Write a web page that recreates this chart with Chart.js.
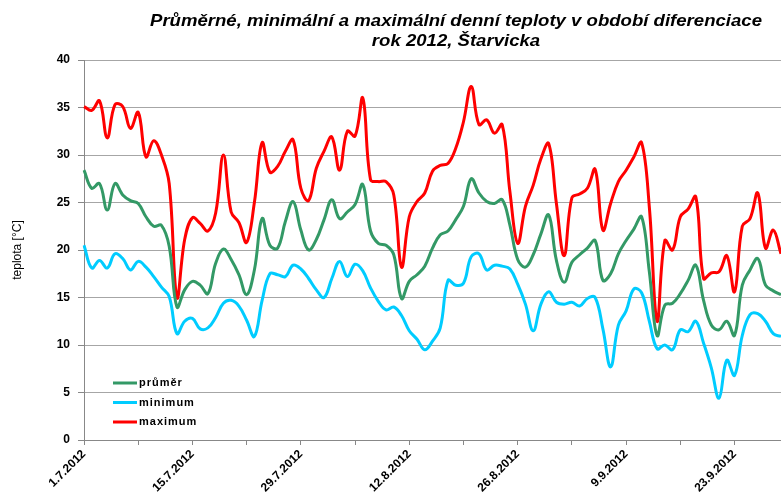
<!DOCTYPE html>
<html>
<head>
<meta charset="utf-8">
<script src="https://cdn.jsdelivr.net/npm/chart.js@4.4.1/dist/chart.umd.min.js"></script>
<style>
  html, body { margin: 0; padding: 0; background: #fff; }
  #wrap { width: 781px; height: 501px; }
</style>
</head>
<body>
<div id="wrap"><canvas id="chart" width="781" height="501"></canvas></div>
<script>
// ======================
// DATA (daily values, 1.7.2012 – 29.9.2012)
// ======================
const titleLines = [
  "Průměrné, minimální a maximální denní teploty v období diferenciace",
  "rok 2012, Štarvicka"
];
const yTitle = "teplota [°C]";

const prumer = [
  28.4, 26.5, 27.0, 24.2, 27.0, 25.8, 25.2, 24.9, 23.5, 22.5, 22.6, 20.4, 14.0, 15.8,
  16.7, 16.3, 15.4, 18.6, 20.1, 19.0, 17.4, 15.3, 17.9, 23.3, 20.5, 20.2, 23.0, 25.1,
  22.1, 20.0, 21.1, 23.2, 25.3, 23.3, 24.0, 24.8, 26.9, 22.0, 20.7, 20.5, 19.5, 14.9,
  16.7, 17.4, 18.3, 20.2, 21.6, 22.0, 23.2, 24.6, 27.5, 26.0, 25.1, 24.9, 25.3, 22.6,
  19.0, 18.2, 19.5, 21.7, 23.7, 18.9, 16.6, 18.7, 19.5, 20.2, 21.0, 16.8, 17.5, 19.6,
  21.0, 22.2, 23.5, 17.7, 11.0, 14.2, 14.4, 15.4, 16.8, 18.4, 14.7, 12.1, 11.6, 12.5,
  11.0, 16.3, 17.9, 19.1, 16.3, 15.7, 15.3
];
const minimum = [
  20.5, 18.1, 18.9, 18.1, 19.6, 19.1, 17.9, 18.8, 18.2, 17.2, 16.1, 15.1, 11.2, 12.5,
  12.8, 11.7, 11.8, 12.9, 14.4, 14.7, 14.1, 12.6, 10.9, 14.7, 17.5, 17.4, 17.2, 18.4,
  18.0, 17.0, 15.8, 15.0, 17.0, 18.8, 17.2, 18.5, 17.8, 16.0, 14.6, 13.7, 14.0, 13.1,
  11.5, 10.6, 9.5, 10.4, 11.8, 16.8, 16.3, 16.5, 19.3, 19.6, 17.9, 18.4, 18.3, 18.0,
  16.4, 14.3, 11.5, 14.3, 15.6, 14.5, 14.3, 14.5, 14.1, 14.9, 15.0, 11.7, 7.7, 12.1,
  13.6, 15.9, 15.5, 12.5, 9.6, 10.0, 9.5, 11.6, 11.4, 12.5, 10.2, 7.6, 4.4, 8.4,
  6.8, 11.0, 13.2, 13.3, 12.5, 11.2, 10.9
];
const maximum = [
  35.1, 34.7, 35.7, 31.8, 35.3, 35.1, 32.8, 34.5, 29.8, 31.5, 30.0, 27.0, 15.0, 21.1,
  23.4, 22.8, 22.0, 23.9, 30.0, 24.0, 22.9, 20.8, 25.0, 31.3, 28.2, 28.8, 30.4, 31.6,
  26.5, 25.2, 28.6, 30.4, 31.9, 28.4, 32.5, 32.0, 36.0, 27.4, 27.2, 27.2, 25.8, 18.2,
  23.5, 25.1, 26.0, 28.3, 28.9, 29.1, 30.7, 33.5, 37.2, 33.2, 33.7, 32.3, 33.2, 26.1,
  20.7, 24.6, 26.8, 29.6, 31.2, 24.9, 19.4, 25.5, 25.9, 26.5, 28.5, 22.1, 24.9, 27.2,
  28.4, 29.8, 31.3, 24.5, 12.5, 21.0, 20.0, 23.5, 24.3, 25.6, 17.0, 17.6, 17.7, 19.4,
  15.6, 22.5, 23.3, 26.0, 20.2, 22.1, 19.6
];

// category labels: one per day from 1.7.2012
const days = prumer.map((_, i) => {
  const d = new Date(2012, 6, 1 + i);
  return d.getDate() + "." + (d.getMonth() + 1) + "." + d.getFullYear();
});

const FONT = '"Liberation Sans", Arial, sans-serif';

// ======================
// PLUGINS: title, y title, legend inside plot
// ======================
const textPlugin = {
  id: "textPlugin",
  afterDraw(chart) {
    const ctx = chart.ctx;
    ctx.save();
    ctx.fillStyle = "#000";
    ctx.textAlign = "center";
    ctx.textBaseline = "alphabetic";
    ctx.font = 'italic bold 17px "Liberation Sans Narrow", ' + FONT;
    const k = 612 / ctx.measureText(titleLines[0]).width;
    ctx.translate(456, 0);
    ctx.scale(k, 1);
    ctx.fillText(titleLines[0], 0, 26);
    ctx.fillText(titleLines[1], 0, 46);
    ctx.restore();

    ctx.save();
    ctx.fillStyle = "#000";
    ctx.font = "12px " + FONT;
    ctx.textAlign = "center";
    ctx.textBaseline = "middle";
    ctx.translate(18, 250);
    ctx.rotate(-Math.PI / 2);
    ctx.fillText(yTitle, 0, 0);
    ctx.restore();
  },
  afterDatasetsDraw(chart) {
    const ctx = chart.ctx;
    ctx.save();
    ctx.font = "bold 11px " + FONT;
    ctx.letterSpacing = "1px";
    ctx.textBaseline = "middle";
    ctx.textAlign = "left";
    chart.data.datasets.forEach((ds, i) => {
      const y = 383 + i * 19.5;
      ctx.strokeStyle = ds.borderColor;
      ctx.lineWidth = 3;
      ctx.beginPath();
      ctx.moveTo(113, y);
      ctx.lineTo(137, y);
      ctx.stroke();
      ctx.fillStyle = "#000";
      ctx.fillText(ds.label, 139, y);
    });
    ctx.restore();
  }
};

// ======================
// CHART
// ======================
function line(label, data, color) {
  return {
    label: label,
    data: data,
    borderColor: color,
    backgroundColor: color,
    borderWidth: 3,
    pointRadius: 0,
    tension: 0.4,
    fill: false
  };
}

new Chart(document.getElementById("chart"), {
  type: "line",
  data: {
    labels: days,
    datasets: [
      line("průměr", prumer, "#339966"),
      line("minimum", minimum, "#00CCFF"),
      line("maximum", maximum, "#FF0000")
    ]
  },
  options: {
    responsive: false,
    animation: false,
    devicePixelRatio: 1,
    layout: { padding: { top: 60, left: 0, right: 0, bottom: 0 } },
    plugins: {
      legend: { display: false },
      title: { display: false },
      tooltip: { enabled: false }
    },
    scales: {
      x: {
        type: "category",
        offset: false,
        afterFit(scale) {
          scale.height = 61;
          scale.paddingLeft = 0;
          scale.paddingRight = 0;
        },
        border: { display: true, color: "#888888", width: 1 },
        grid: {
          display: true,
          drawOnChartArea: false,
          drawTicks: true,
          tickLength: 5,
          tickColor: (c) => (c.index % 7 === 0 ? "#888888" : "rgba(0,0,0,0)")
        },
        ticks: {
          autoSkip: false,
          maxRotation: 45,
          minRotation: 45,
          padding: 2,
          color: "#000",
          font: { family: FONT, size: 12, weight: "bold" },
          callback: (v, i) => (i % 14 === 0 ? days[i] : "")
        }
      },
      y: {
        min: 0,
        max: 40,
        afterFit(scale) { scale.width = 84; },
        border: { display: true, color: "#888888", width: 1 },
        grid: {
          color: "#a6a6a6",
          lineWidth: 1,
          tickLength: 6,
          tickColor: "#888888"
        },
        ticks: {
          stepSize: 5,
          padding: 8,
          color: "#000",
          font: { family: FONT, size: 12, weight: "bold" }
        }
      }
    }
  },
  plugins: [textPlugin]
});
</script>
</body>
</html>
